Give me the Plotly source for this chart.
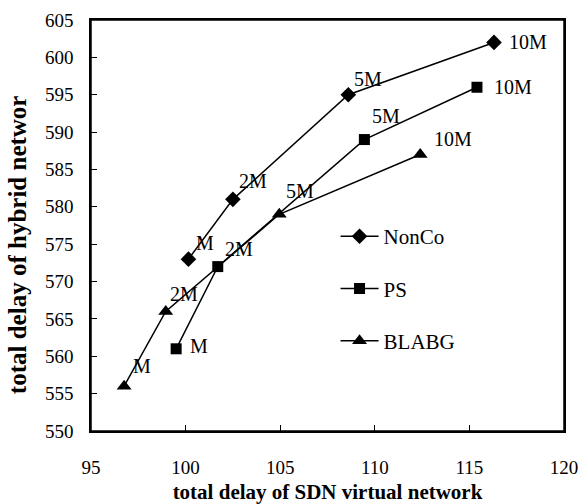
import plotly.graph_objects as go

series_names = ["NonCo", "PS", "BLABG"]
point_labels = ["M", "2M", "5M", "10M"]

nonco_x = [100.15, 102.5, 108.6, 116.3]
nonco_y = [573, 581, 595, 602]
ps_x = [99.5, 101.7, 109.45, 115.4]
ps_y = [561, 572, 589, 596]
blabg_x = [96.75, 98.95, 104.95, 112.4]
blabg_y = [556, 566, 579, 587]

x_ticks = [95, 100, 105, 110, 115, 120]
y_ticks = [550, 555, 560, 565, 570, 575, 580, 585, 590, 595, 600, 605]

x_title = "total delay of SDN virtual network"
y_title = "total delay of hybrid networ"

FONT = "Times New Roman, Liberation Serif, serif"

xs = [nonco_x, ps_x, blabg_x]
ys = [nonco_y, ps_y, blabg_y]
symbols = ["diamond", "square", "triangle-up"]
sizes = [12, 11, 13]
# label offsets (pixels) per series/point
offsets = [
    [(17, 16), (20, 18), (20, 16), (34, 0)],
    [(23, 3), (21, 18), (22, 24), (36, 0)],
    [(18, 20), (18, 17), (21, 23), (33, 16)],
]

fig = go.Figure()
annotations = []
for i, name in enumerate(series_names):
    fig.add_trace(go.Scatter(
        x=xs[i], y=ys[i], name=name, mode="lines+markers",
        legendgroup=name,
        line=dict(color="black", width=1.5),
        marker=dict(symbol=symbols[i], size=sizes[i], color="black"),
    ))
    for j, lab in enumerate(point_labels):
        dx, dy = offsets[i][j]
        annotations.append(dict(
            x=xs[i][j], y=ys[i][j], text=lab, showarrow=False,
            xshift=dx, yshift=dy,
            font=dict(family=FONT, size=20, color="black"),
        ))

annotations.append(dict(
    xref="paper", yref="paper", x=-0.154, y=0.4526,
    xanchor="center", yanchor="middle", textangle=-90,
    text="<b>" + y_title + "</b>", showarrow=False,
    font=dict(family=FONT, size=25, color="black"),
))

fig.update_layout(
    width=582, height=504,
    margin=dict(l=91, r=18, t=20, b=73),
    paper_bgcolor="white", plot_bgcolor="white",
    font=dict(family=FONT, size=20, color="black"),
    annotations=annotations,
    shapes=[dict(type="rect", xref="paper", yref="paper",
                 x0=0, y0=0, x1=1, y1=1,
                 line=dict(color="black", width=1.5), layer="above")],
    showlegend=True,
    legend=dict(
        x=0.517, y=0.523, xanchor="left", yanchor="top",
        bgcolor="rgba(0,0,0,0)",
        font=dict(family=FONT, size=21, color="black"),
        tracegroupgap=22, itemwidth=38,
    ),
    xaxis=dict(
        range=[95, 120], tickvals=x_ticks, automargin=False,
        ticks="inside", ticklen=6, tickcolor="black", tickwidth=1,
        showline=True, linecolor="black", linewidth=1.5, mirror=True,
        showgrid=False, zeroline=False,
        tickfont=dict(family=FONT, size=19),
        ticklabelstandoff=18,
        title=dict(text="<b>" + x_title + "</b>",
                   font=dict(family=FONT, size=21), standoff=8),
    ),
    yaxis=dict(
        range=[550, 605], tickvals=y_ticks, automargin=False,
        ticks="inside", ticklen=6, tickcolor="black", tickwidth=1,
        showline=True, linecolor="black", linewidth=1.5, mirror=True,
        showgrid=False, zeroline=False,
        tickfont=dict(family=FONT, size=19),
        ticklabelstandoff=12,
    ),
)

fig.write_html("out.html")
